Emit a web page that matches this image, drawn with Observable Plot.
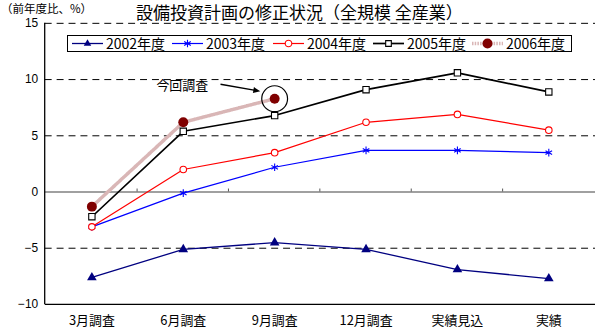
<!DOCTYPE html>
<html>
<head>
<meta charset="utf-8">
<script src="https://cdn.jsdelivr.net/npm/d3@7"></script>
<script src="https://cdn.jsdelivr.net/npm/@observablehq/plot@0.6"></script>
<style>
  html, body { margin: 0; padding: 0; background: #fff; overflow: hidden; width: 595px; height: 332px; }
  #wrap { position: relative; width: 595px; height: 332px; font-family: "Noto Sans CJK JP", sans-serif; }
  #title1 { position: absolute; left: 1px; top: 0px; font-size: 11.5px; line-height: normal; white-space: nowrap; color: #000; }
  #title2 { position: absolute; left: 136px; top: -1px; font-size: 17px; line-height: normal; white-space: nowrap; color: #000; }
  #legend { position: absolute; left: 67px; top: 35px; width: 505px; height: 17px; box-sizing: border-box; border: 1px solid #000; background: #fff; }
  .li { position: absolute; top: 0; height: 15px; display: flex; align-items: center; font-size: 14px; line-height: 15px; white-space: nowrap; }
  .li svg { margin-right: 3px; }
  #chart { position: absolute; left: 0; top: 0; }
</style>
</head>
<body>
<div id="wrap">
  <div id="chart"></div>
  <div id="title1">（前年度比、%）</div>
  <div id="title2">設備投資計画の修正状況（全規模 全産業）</div>
  <div id="legend"></div>
</div>
<script>
// ---- data ----
const categories = ["3月調査", "6月調査", "9月調査", "12月調査", "実績見込", "実績"];
const seriesNames = ["2002年度", "2003年度", "2004年度", "2005年度", "2006年度"];
const v2002 = [-7.6, -5.1, -4.5, -5.1, -6.9, -7.7];
const v2003 = [-3.1, -0.1, 2.2, 3.7, 3.7, 3.5];
const v2004 = [-3.1, 2.0, 3.5, 6.2, 6.9, 5.5];
const v2005 = [-2.2, 5.4, 6.8, 9.1, 10.6, 8.9];
const v2006 = [-1.3, 6.2, 8.3];
const yTicks = [-10, -5, 0, 5, 10, 15];
const gridDashed = [15, 10, 5, -5];
const annotationLabel = "今回調査";

// ---- styles ----
const styles = {
  "2002年度": {stroke: "#000080", width: 1.3, symbol: "triangle", fill: "#000080", dstroke: "none", r: 3.6},
  "2003年度": {stroke: "#0000ff", width: 1.2, symbol: "asterisk", fill: "none", dstroke: "#0000ff", r: 3.6},
  "2004年度": {stroke: "#ff0000", width: 1.2, symbol: "circle", fill: "#fff", dstroke: "#ff0000", r: 3.3},
  "2005年度": {stroke: "#000000", width: 1.7, symbol: "square", fill: "#fff", dstroke: "#000", r: 3.6},
  "2006年度": {stroke: "#d9b6b6", width: 3.5, symbol: "circle", fill: "#800000", dstroke: "none", r: 5, dash: "1.5,1.2"}
};

const allValues = [v2002, v2003, v2004, v2005, v2006];
const rows = [];
seriesNames.forEach((s, si) => {
  allValues[si].forEach((v, i) => rows.push({series: s, cat: categories[i], value: v}));
});
const latest = rows.filter(d => d.series === "2006年度").slice(-1);

function annotations(index, scales, values, dimensions) {
  const x = scales.x, y = scales.y;
  const g = d3.create("svg:g");
  const step = x(categories[1]) - x(categories[0]);
  for (let i = 1; i < categories.length; i++) {
    const bx = x(categories[i]) - step / 2;
    g.append("line").attr("x1", bx).attr("x2", bx).attr("y1", y(0) - 3).attr("y2", y(0))
      .attr("stroke", "#555").attr("stroke-width", 1);
  }
  g.append("line")
    .attr("x1", dimensions.marginLeft).attr("x2", dimensions.marginLeft)
    .attr("y1", y(15)).attr("y2", y(-10))
    .attr("stroke", "#000").attr("stroke-width", 1.3);
  const d = latest[0];
  const px = x(d.cat), py = y(d.value);
  const x1 = px - 54, y1 = py - 14, x2 = px - 14, y2 = py - 7;
  const ang = Math.atan2(y2 - y1, x2 - x1);
  g.append("line").attr("x1", x1).attr("y1", y1).attr("x2", x2 - 5 * Math.cos(ang)).attr("y2", y2 - 5 * Math.sin(ang))
    .attr("stroke", "#000").attr("stroke-width", 1.5);
  const L = 7, W = 3;
  const bx = x2 - L * Math.cos(ang), by = y2 - L * Math.sin(ang);
  const pts = [[x2, y2], [bx + W * Math.sin(ang), by - W * Math.cos(ang)], [bx - W * Math.sin(ang), by + W * Math.cos(ang)]];
  g.append("polygon").attr("points", pts.map(p => p.join(",")).join(" ")).attr("fill", "#000");
  return g.node();
}

const marks = [
  Plot.ruleY(gridDashed, {stroke: "#000", strokeWidth: 1, strokeDasharray: "7,5"}),
  Plot.ruleY([0], {stroke: "#808080", strokeWidth: 1.3}),
  Plot.ruleY([-10], {stroke: "#000", strokeWidth: 1.3}),
  Plot.axisY({ticks: yTicks, tickSize: 0, tickPadding: 7, fontSize: 12, label: null, fontFamily: "Liberation Sans, Arial, sans-serif", tickFormat: d => String(d).replace("-", "−")}),
  Plot.axisX({tickSize: 0, tickPadding: 11, fontSize: 13, fontFamily: "Noto Sans CJK JP, sans-serif", label: null})
];
seriesNames.forEach(s => {
  const st = styles[s];
  const data = rows.filter(d => d.series === s);
  marks.push(Plot.line(data, {x: "cat", y: "value", stroke: st.stroke, strokeWidth: st.width, strokeDasharray: st.dash || null}));
});
seriesNames.forEach(s => {
  const st = styles[s];
  const data = rows.filter(d => d.series === s);
  marks.push(Plot.dot(data, {x: "cat", y: "value", symbol: st.symbol, r: st.r, fill: st.fill, stroke: st.dstroke, strokeWidth: 1.1}));
});
marks.push(Plot.dot(latest, {x: "cat", y: "value", r: 13, fill: "none", stroke: "#000", strokeWidth: 1.2}));
marks.push(Plot.text(latest, {x: "cat", y: "value", text: () => annotationLabel, dx: -93, dy: -13, fontSize: 13, fontFamily: "Noto Sans CJK JP, sans-serif", fill: "#000"}));
marks.push(annotations);

const chart = Plot.plot({
  width: 599,
  height: 332,
  marginLeft: 45,
  marginRight: 0,
  marginTop: 23,
  marginBottom: 26,
  style: {background: "transparent", overflow: "visible"},
  x: {type: "point", domain: categories, padding: 0.5, align: 0.5, axis: null},
  y: {domain: [-10, 15], axis: null},
  marks
});
document.getElementById("chart").appendChild(chart);

// ---- legend ----
const legendPos = [4, 104, 205, 305, 404];
const legend = d3.select("#legend");
seriesNames.forEach((s, i) => {
  const st = styles[s];
  const item = legend.append("div").attr("class", "li").style("left", legendPos[i] + "px");
  const svg = item.append("svg").attr("width", 31).attr("height", 15);
  svg.append("line").attr("x1", 0).attr("x2", 31).attr("y1", 7.5).attr("y2", 7.5)
    .attr("stroke", st.stroke).attr("stroke-width", st.width).attr("stroke-dasharray", st.dash || null);
  const sym = {triangle: d3.symbolTriangle2, asterisk: d3.symbolAsterisk, circle: d3.symbolCircle, square: d3.symbolSquare2}[st.symbol];
  svg.append("path").attr("transform", "translate(15.5,7.5)")
    .attr("d", d3.symbol(sym, Math.PI * st.r * st.r)())
    .attr("fill", st.fill).attr("stroke", st.dstroke).attr("stroke-width", 1.1);
  item.append("span").text(s);
});
</script>
</body>
</html>
